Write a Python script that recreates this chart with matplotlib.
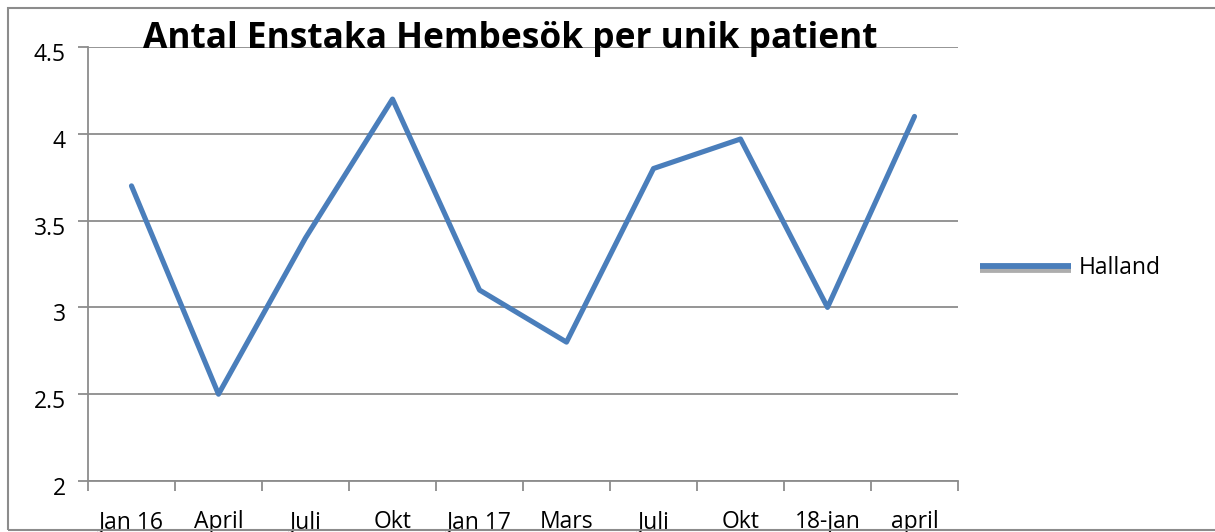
import matplotlib
matplotlib.use("Agg")
import matplotlib.pyplot as plt
import matplotlib.patheffects as pe
import matplotlib.transforms as mtransforms
from matplotlib.patches import Rectangle

# data
categories = ["Jan 16", "April", "Juli", "Okt", "Jan 17", "Mars", "Juli", "Okt", "18-jan", "april"]
halland = [3.7, 2.5, 3.4, 4.2, 3.1, 2.8, 3.8, 3.97, 3.0, 4.1]
y_ticks = [2, 2.5, 3, 3.5, 4, 4.5]
y_labels = ["2", "2.5", "3", "3.5", "4", "4.5"]

TITLE = "Antal Enstaka Hembesök per unik patient"
LINE_COLOR = "#4a7ebb"
GRID_COLOR = "#8c8c8c"

plt.rcParams['font.family'] = ['Open Sans', 'DejaVu Sans']

W, H = 1215, 532
fig = plt.figure(figsize=(W / 100, H / 100), dpi=100)
ax = fig.add_axes([88 / W, (H - 481) / H, (958 - 88) / W, (481 - 47) / H])

x = list(range(len(categories)))
line, = ax.plot(x, halland, color=LINE_COLOR, lw=3.7, label="Halland",
                solid_capstyle='round', solid_joinstyle='round', zorder=3)

ax.set_xlim(-0.5, len(categories) - 0.5)
ax.set_ylim(2, 4.5)

# category boundaries get the tick marks, centres get the labels
ax.set_xticks([i - 0.5 for i in range(len(categories) + 1)])
ax.set_xticklabels([])
ax.set_xticks(x, minor=True)
ax.set_xticklabels(categories, minor=True, fontsize=16.5)
ax.tick_params(axis='x', which='major', direction='out', length=7, width=1.3, color=GRID_COLOR)
ax.tick_params(axis='x', which='minor', length=0, pad=21)

ax.set_yticks(y_ticks)
ax.set_yticklabels(y_labels, fontsize=16.5)
ax.tick_params(axis='y', direction='out', length=7, width=1.3, color=GRID_COLOR, pad=9)
shift = mtransforms.ScaledTranslation(0, -5 / 100, fig.dpi_scale_trans)
for lab in ax.get_yticklabels():
    lab.set_transform(lab.get_transform() + shift)

ax.grid(axis='y', color=GRID_COLOR, lw=1.3)
ax.set_axisbelow(True)
for side in ['top', 'right']:
    ax.spines[side].set_visible(False)
for side in ['left', 'bottom']:
    ax.spines[side].set_color(GRID_COLOR)
    ax.spines[side].set_linewidth(1.3)

fig.text(510 / W, 1 - 48 / H, TITLE, ha='center', va='baseline',
         fontsize=25.4, fontweight='bold')

leg = ax.legend(loc='center left', bbox_to_anchor=(1.0, 0.49), frameon=False,
                fontsize=16.5, handlelength=4.0, handletextpad=0.3, borderaxespad=0.55)
for h in leg.get_lines():
    h.set_linewidth(4.2)
    h.set_solid_capstyle('butt')
    h.set_path_effects([pe.SimpleLineShadow(offset=(0, -2.5), shadow_color='#999999', alpha=0.8),
                        pe.Normal()])

# outer chart frame (right and bottom run to the picture edges)
fig.patches.append(Rectangle((8 / W, 2 / H), 1.2, (H - 10) / H, transform=fig.transFigure,
                             fill=False, edgecolor='#8c8c8c', lw=1.5, zorder=10))

fig.savefig("out.png", dpi=100)
